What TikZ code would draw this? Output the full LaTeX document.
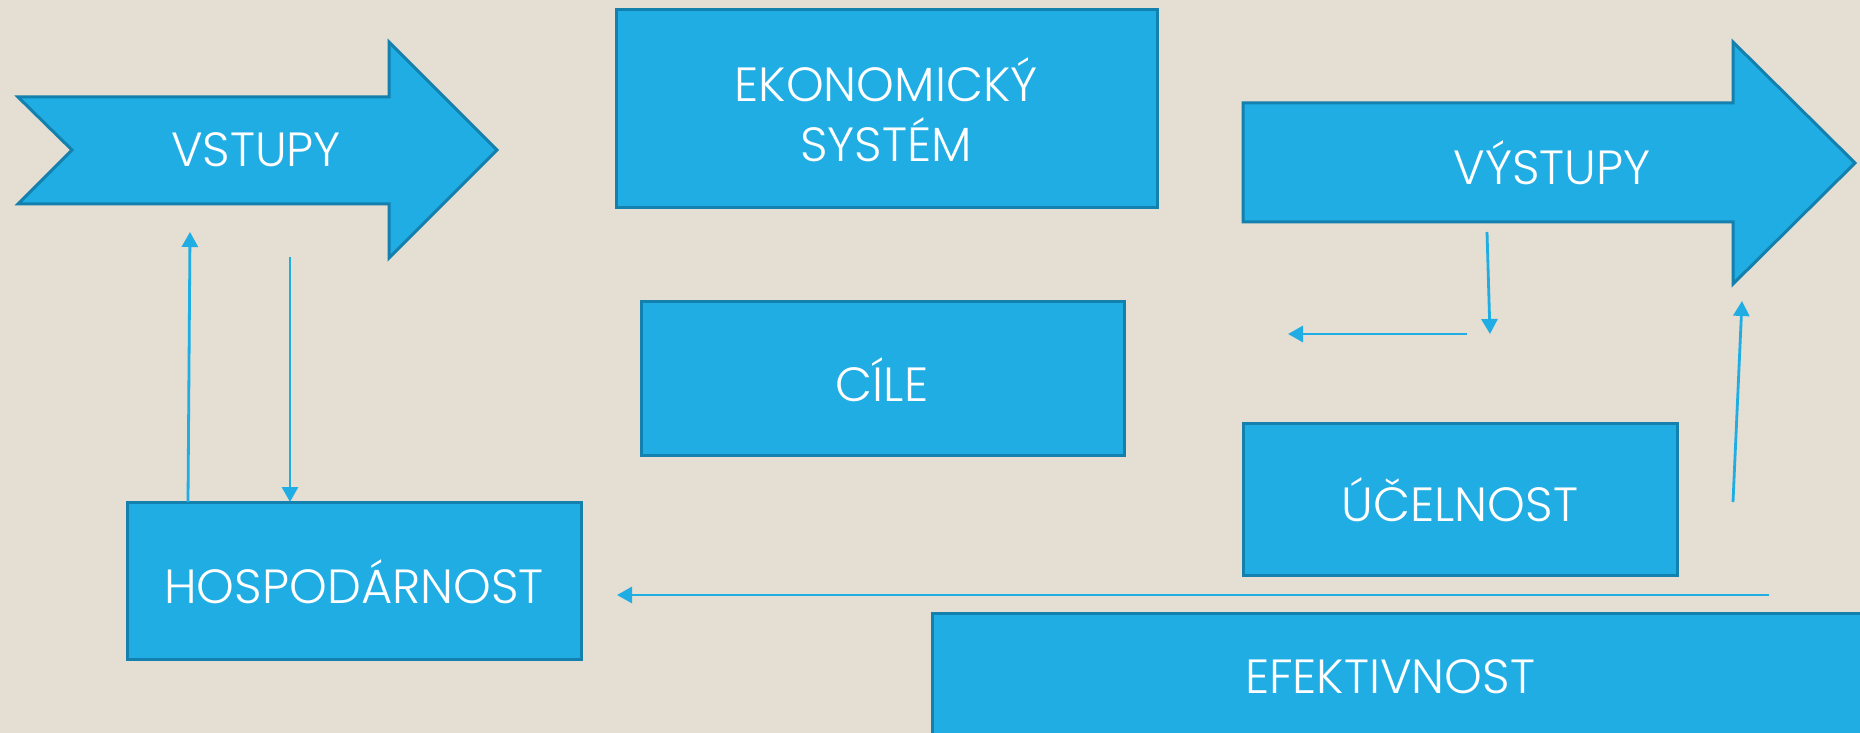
\documentclass[tikz,border=0pt]{standalone}
\usepackage{fontspec}
\setmainfont{Poppins}[UprightFont=* Light]
\usetikzlibrary{arrows.meta}
\definecolor{bg}{HTML}{E4DED3}
\definecolor{fillb}{HTML}{1FADE4}
\definecolor{edgeb}{HTML}{1380AD}
\definecolor{linkb}{HTML}{1FADE4}
\tikzset{
  shapebox/.style={fill=fillb, draw=edgeb, line width=1.5pt},
  lbl/.style={text=white, font=\fontsize{24}{30}\selectfont, align=center, inner sep=0pt},
  link/.style={draw=linkb, line width=1.4pt, -{Triangle[length=7.5pt,width=8pt]}},
}
\begin{document}
\begin{tikzpicture}[x=0.5pt,y=-0.5pt]
\useasboundingbox (0,0) rectangle (1860,733);
\fill[bg] (0,0) rectangle (1860,733);
\clip (0,0) rectangle (1860,733);
% VSTUPY arrow
\draw[shapebox] (18,97) -- (389,97) -- (389,42) -- (497,150) -- (389,258) -- (389,204) -- (18,204) -- (72,150) -- cycle;
\node[lbl] (vstupy) at (256,150) {VSTUPY};
% EKONOMICKY SYSTEM
\draw[shapebox] (616,10) rectangle (1157,208);
\node[lbl] (eko) at (886,110) {EKONOMICKÝ\\SYSTÉM};
% VYSTUPY arrow
\draw[shapebox] (1243,103) -- (1733,103) -- (1733,42) -- (1855,163) -- (1733,284) -- (1733,222) -- (1243,222) -- cycle;
\node[lbl] (vystupy) at (1552,163) {VÝSTUPY};
% CILE
\draw[shapebox] (641,301) rectangle (1124,455);
\node[lbl] (cile) at (882,380) {CÍLE};
% UCELNOST
\draw[shapebox] (1243,423) rectangle (1677,575);
\node[lbl] (ucel) at (1460,500) {ÚČELNOST};
% HOSPODARNOST
\draw[shapebox] (127,502) rectangle (581,659);
\node[lbl] (hosp) at (354,582) {HOSPODÁRNOST};
% EFEKTIVNOST
\draw[shapebox] (932,613) rectangle (1880,760);
\node[lbl] (efek) at (1390,677) {EFEKTIVNOST};
% connector end points
\coordinate (a1s) at (188,502); \coordinate (a1e) at (190,232);
\coordinate (a2s) at (290,257); \coordinate (a2e) at (290,502);
\coordinate (a3s) at (1487,232); \coordinate (a3e) at (1490,334);
\coordinate (a4s) at (1467,334); \coordinate (a4e) at (1288,334);
\coordinate (a5s) at (1733,502); \coordinate (a5e) at (1742,301);
\coordinate (a6s) at (1769,595); \coordinate (a6e) at (617,595);
\draw[link] (a1s) -- (a1e);
\draw[link] (a2s) -- (a2e);
\draw[link] (a3s) -- (a3e);
\draw[link] (a4s) -- (a4e);
\draw[link] (a5s) -- (a5e);
\draw[link] (a6s) -- (a6e);
\end{tikzpicture}
\end{document}
